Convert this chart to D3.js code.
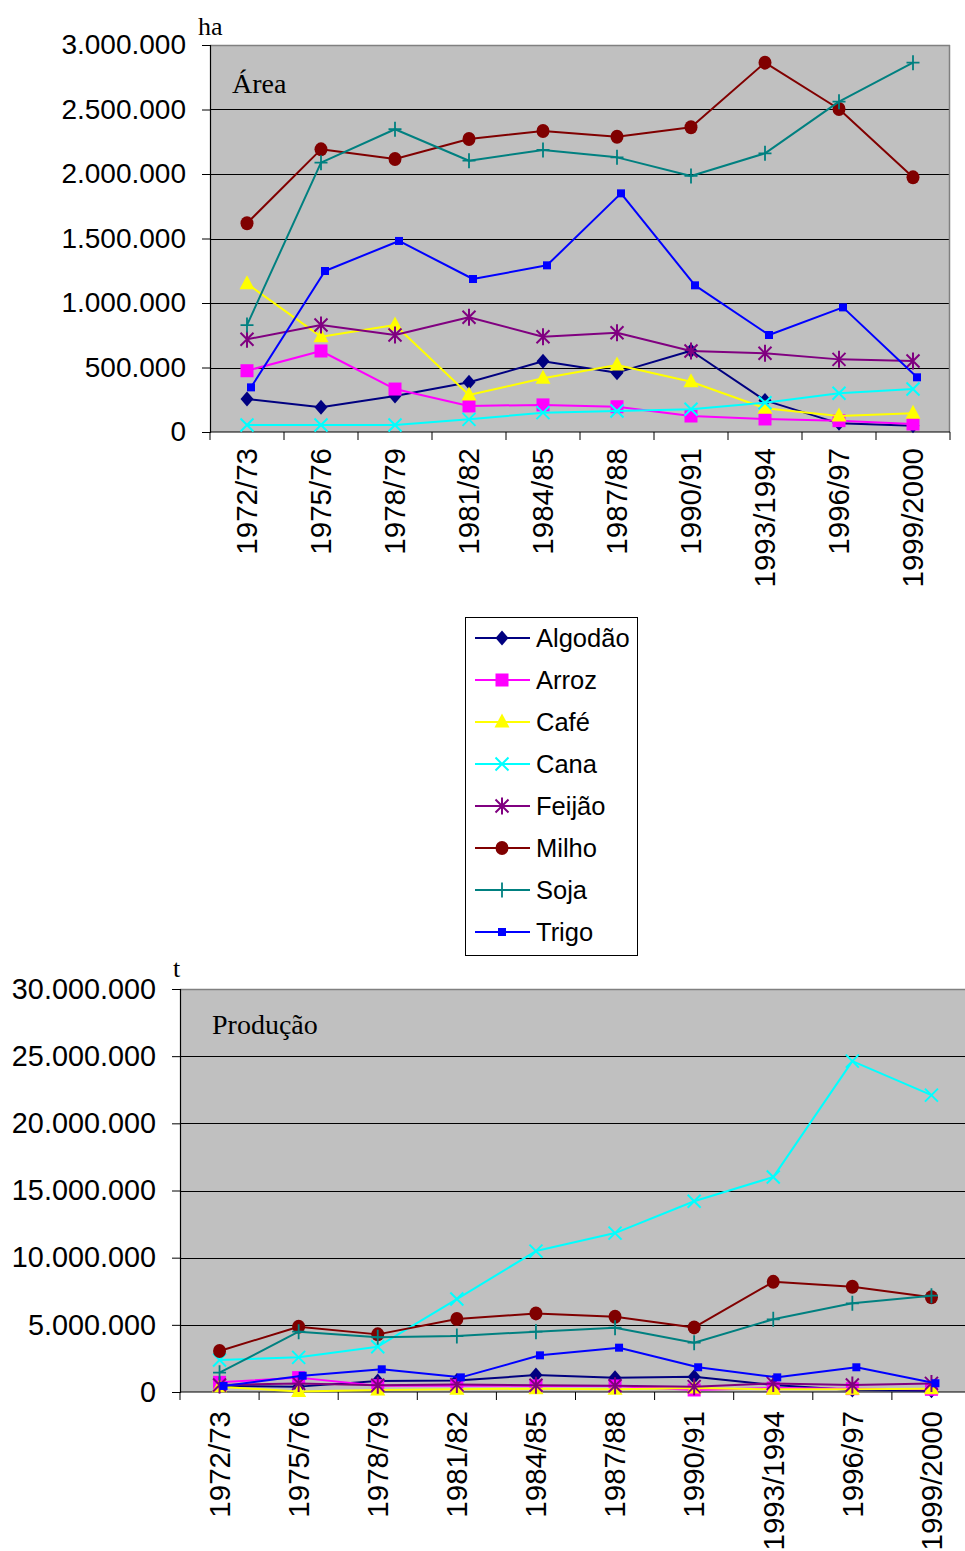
<!DOCTYPE html>
<html>
<head>
<meta charset="utf-8">
<script src="https://cdn.jsdelivr.net/npm/d3@7"></script>
<style>
  html, body { margin: 0; padding: 0; background: #fff; }
  svg { display: block; }
  .tick text, .lab { font-family: "Liberation Sans", Arial, sans-serif; fill: #000; }
  .serif { font-family: "Liberation Serif", "Times New Roman", serif; fill: #000; }
</style>
</head>
<body>
<svg id="chart" width="965" height="1551"></svg>
<script>
// Crop seasons
const categories = ["1972/73", "1975/76", "1978/79", "1981/82", "1984/85", "1987/88", "1990/91", "1993/1994", "1996/97", "1999/2000"];
const seriesNames = ["Algodão", "Arroz", "Café", "Cana", "Feijão", "Milho", "Soja", "Trigo"];

// Planted area (ha)
const areaAlgodao = [256000, 191000, 279000, 385000, 548000, 460000, 630000, 245000, 67000, 49000];
const areaArroz   = [475000, 628000, 333000, 202000, 210000, 196000, 124000, 101000, 88000, 62000];
const areaCafe    = [1150000, 739000, 829000, 287000, 416000, 519000, 390000, 184000, 124000, 145000];
const areaCana    = [54000, 54000, 54000, 98000, 150000, 163000, 176000, 227000, 300000, 333000];
const areaFeijao  = [719000, 829000, 752000, 889000, 739000, 770000, 628000, 610000, 563000, 550000];
const areaMilho   = [1618000, 2191000, 2116000, 2271000, 2333000, 2289000, 2362000, 2863000, 2504000, 1974000];
const areaSoja    = [829000, 2088000, 2347000, 2103000, 2186000, 2129000, 1985000, 2160000, 2561000, 2863000];
const areaTrigo   = [346000, 1248000, 1481000, 1186000, 1292000, 1850000, 1137000, 752000, 966000, 424000];

// Production (t)
const prodAlgodao = [450000, 400000, 820000, 850000, 1260000, 1070000, 1140000, 520000, 150000, 100000];
const prodArroz   = [720000, 1070000, 470000, 470000, 450000, 450000, 150000, 300000, 250000, 200000];
const prodCafe    = [400000, 30000, 150000, 200000, 250000, 200000, 300000, 200000, 200000, 250000];
const prodCana    = [2380000, 2580000, 3370000, 6920000, 10490000, 11830000, 14200000, 16000000, 24630000, 22100000];
const prodFeijao  = [520000, 640000, 500000, 550000, 500000, 470000, 400000, 640000, 520000, 640000];
const prodMilho   = [3050000, 4860000, 4290000, 5430000, 5850000, 5600000, 4810000, 8200000, 7840000, 7050000];
const prodSoja    = [1440000, 4490000, 4070000, 4170000, 4490000, 4790000, 3670000, 5410000, 6600000, 7170000];
const prodTrigo   = [450000, 1210000, 1690000, 1090000, 2730000, 3300000, 1840000, 1090000, 1840000, 650000];

// Axis ticks
const areaTicks = [0, 500000, 1000000, 1500000, 2000000, 2500000, 3000000];
const prodTicks = [0, 5000000, 10000000, 15000000, 20000000, 25000000, 30000000];

const areaSeries = [areaAlgodao, areaArroz, areaCafe, areaCana, areaFeijao, areaMilho, areaSoja, areaTrigo];
const prodSeries = [prodAlgodao, prodArroz, prodCafe, prodCana, prodFeijao, prodMilho, prodSoja, prodTrigo];

// Series styling: colour, marker kind, x nudge
const styles = {
  "Algodão": { color: "#000080", marker: "diamond", dx: 0 },
  "Arroz":   { color: "#FF00FF", marker: "square", dx: 0 },
  "Café":    { color: "#FFFF00", marker: "triangle", dx: 0 },
  "Cana":    { color: "#00FFFF", marker: "x", dx: 0 },
  "Feijão":  { color: "#800080", marker: "asterisk", dx: 0 },
  "Milho":   { color: "#800000", marker: "circle", dx: 0 },
  "Soja":    { color: "#008080", marker: "plus", dx: 0 },
  "Trigo":   { color: "#0000FF", marker: "smallsquare", dx: 4 }
};

const ptBR = d3.formatLocale({ decimal: ",", thousands: ".", grouping: [3], currency: ["R$", ""] });
const fmt = ptBR.format(",d");

const svg = d3.select("#chart");

function drawMarker(g, kind, color, cx, cy) {
  switch (kind) {
    case "diamond":
      g.append("path").attr("d", `M${cx},${cy - 7.5}L${cx + 6.5},${cy}L${cx},${cy + 7.5}L${cx - 6.5},${cy}Z`).attr("fill", color);
      break;
    case "square":
      g.append("rect").attr("x", cx - 6.5).attr("y", cy - 6.5).attr("width", 13).attr("height", 13).attr("fill", color);
      break;
    case "smallsquare":
      g.append("rect").attr("x", cx - 4).attr("y", cy - 4).attr("width", 8).attr("height", 8).attr("fill", color);
      break;
    case "triangle":
      g.append("path").attr("d", `M${cx},${cy - 8.5}L${cx + 7.5},${cy + 5.5}L${cx - 7.5},${cy + 5.5}Z`).attr("fill", color);
      break;
    case "circle":
      g.append("ellipse").attr("cx", cx).attr("cy", cy).attr("rx", 6.5).attr("ry", 7).attr("fill", color);
      break;
    case "x":
      g.append("path").attr("d", `M${cx - 6.5},${cy - 6.5}L${cx + 6.5},${cy + 6.5}M${cx - 6.5},${cy + 6.5}L${cx + 6.5},${cy - 6.5}`)
        .attr("stroke", color).attr("stroke-width", 2).attr("fill", "none");
      break;
    case "asterisk":
      g.append("path").attr("d", `M${cx - 6.5},${cy - 6.5}L${cx + 6.5},${cy + 6.5}M${cx - 6.5},${cy + 6.5}L${cx + 6.5},${cy - 6.5}M${cx},${cy - 8.5}L${cx},${cy + 8.5}`)
        .attr("stroke", color).attr("stroke-width", 2).attr("fill", "none");
      break;
    case "plus":
      g.append("path").attr("d", `M${cx - 6.5},${cy}L${cx + 6.5},${cy}M${cx},${cy - 7.5}L${cx},${cy + 7.5}`)
        .attr("stroke", color).attr("stroke-width", 1.8).attr("fill", "none");
      break;
  }
}

function drawPanel(opts) {
  const { left, right, top, bottom, clipRight, series, ticks, unit, title, yFont, xFont, xLabelGap } = opts;
  const g = svg.append("g");

  const x = d3.scaleBand().domain(categories).range([left, right]).paddingInner(0).paddingOuter(0);
  const xc = c => x(c) + x.bandwidth() / 2;
  const y = d3.scaleLinear().domain([0, d3.max(ticks)]).range([bottom, top]);
  const visRight = Math.min(right, clipRight);

  // Plot background
  g.append("rect").attr("x", left).attr("y", top)
    .attr("width", visRight - left).attr("height", bottom - top).attr("fill", "#C0C0C0");

  // Gridlines
  g.append("g").selectAll("line").data(ticks.filter(t => t > 0 && t < d3.max(ticks))).join("line")
    .attr("x1", left).attr("x2", visRight)
    .attr("y1", d => Math.round(y(d)) + 0.5).attr("y2", d => Math.round(y(d)) + 0.5)
    .attr("stroke", "#000").attr("stroke-width", 1);

  // Plot border top/right
  g.append("line").attr("x1", left).attr("x2", visRight).attr("y1", top + 0.5).attr("y2", top + 0.5)
    .attr("stroke", "#808080").attr("stroke-width", 1.5);
  if (right <= clipRight) {
    g.append("line").attr("x1", right - 0.5).attr("x2", right - 0.5).attr("y1", top).attr("y2", bottom)
      .attr("stroke", "#808080").attr("stroke-width", 1.5);
  }

  // Y axis
  const yAxis = d3.axisLeft(y).tickValues(ticks).tickFormat(fmt).tickSize(8).tickPadding(16);
  const ya = g.append("g").attr("transform", `translate(${left},0)`).call(yAxis);
  ya.select(".domain").attr("stroke", "#000").attr("stroke-width", 1.2);
  ya.selectAll(".tick line").attr("stroke", "#000");
  ya.selectAll(".tick text").attr("font-size", yFont).attr("font-family", "Liberation Sans, Arial, sans-serif");

  // X axis line + boundary ticks
  g.append("line").attr("x1", left).attr("x2", visRight)
    .attr("y1", bottom).attr("y2", bottom).attr("stroke", "#000").attr("stroke-width", 1.2);
  const bounds = categories.map(c => x(c)).concat([right]).filter(v => v <= clipRight);
  g.append("g").selectAll("line").data(bounds).join("line")
    .attr("x1", d => d).attr("x2", d => d).attr("y1", bottom).attr("y2", bottom + 8)
    .attr("stroke", "#000").attr("stroke-width", 1);

  // Rotated category labels
  g.append("g").selectAll("text").data(categories).join("text")
    .attr("class", "lab")
    .attr("transform", c => `translate(${xc(c)},${bottom + xLabelGap}) rotate(-90)`)
    .attr("text-anchor", "end").attr("dy", "0.35em")
    .attr("font-size", xFont)
    .text(c => c);

  // Series lines and markers
  seriesNames.forEach((name, i) => {
    const st = styles[name];
    const vals = series[i];
    const sg = g.append("g").attr("transform", `translate(${st.dx},0)`);
    const line = d3.line().x((d, j) => xc(categories[j])).y(d => y(d));
    sg.append("path").datum(vals).attr("d", line)
      .attr("fill", "none").attr("stroke", st.color).attr("stroke-width", 2).attr("stroke-linejoin", "round");
    vals.forEach((v, j) => drawMarker(sg, st.marker, st.color, xc(categories[j]), y(v)));
  });

  // Unit and title
  g.append("text").attr("class", "serif").attr("x", opts.unitX).attr("y", opts.unitY)
    .attr("font-size", 26).text(unit);
  g.append("text").attr("class", "serif").attr("x", left + opts.titleDx).attr("y", top + opts.titleDy)
    .attr("font-size", 28).text(title);
}

drawPanel({
  left: 210, right: 950, top: 45, bottom: 432, clipRight: 965,
  series: areaSeries, ticks: areaTicks, unit: "ha", title: "Área",
  yFont: 28, xFont: 29.5, xLabelGap: 16, unitX: 198, unitY: 35, titleDx: 22, titleDy: 48
});

drawPanel({
  left: 180, right: 971, top: 989, bottom: 1392, clipRight: 965,
  series: prodSeries, ticks: prodTicks, unit: "t", title: "Produção",
  yFont: 28.8, xFont: 29.5, xLabelGap: 19, unitX: 173, unitY: 977, titleDx: 32, titleDy: 45
});

// Legend
const lg = svg.append("g");
lg.append("rect").attr("x", 465.5).attr("y", 617.5).attr("width", 172).attr("height", 338)
  .attr("fill", "#fff").attr("stroke", "#000").attr("stroke-width", 1);
const legendY = d3.scalePoint().domain(seriesNames).range([638, 932]);
seriesNames.forEach(name => {
  const st = styles[name];
  const yy = legendY(name);
  lg.append("line").attr("x1", 475).attr("x2", 530).attr("y1", yy).attr("y2", yy)
    .attr("stroke", st.color).attr("stroke-width", 2);
  drawMarker(lg, st.marker, st.color, 502, yy);
  lg.append("text").attr("class", "lab").attr("x", 536).attr("y", yy).attr("dy", "0.35em")
    .attr("font-size", 25.5).text(name);
});
</script>
</body>
</html>
